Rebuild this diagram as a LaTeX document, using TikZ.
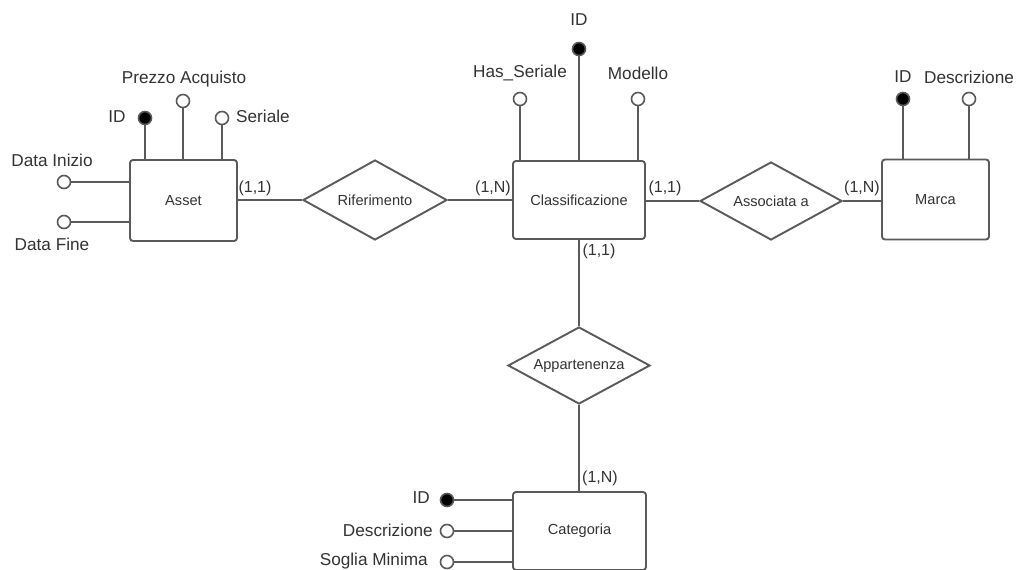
\documentclass[tikz,border=0pt]{standalone}
\usepackage{fontspec}
\setmainfont{Liberation Sans}
\usetikzlibrary{shapes.geometric}
\definecolor{edge}{HTML}{5A5A5A}
\definecolor{ink}{HTML}{333333}
\tikzset{
  entity/.style={draw=edge, line width=1.9pt, rounded corners=3pt, fill=white,
    inner sep=0pt, font=\fontsize{14.6}{16}\selectfont, text=ink},
  relation/.style={diamond, draw=edge, line width=1.9pt, fill=white, inner sep=0pt,
    aspect=1.85, font=\fontsize{14.6}{16}\selectfont, text=ink},
  attr/.style={circle, draw=edge, line width=1.6pt, fill=white, inner sep=0pt, minimum size=13pt},
  keyattr/.style={attr, fill=black},
  lbl/.style={font=\fontsize{17.2}{19}\selectfont, text=ink, inner sep=0pt},
  card/.style={font=\fontsize{16}{18}\selectfont, text=ink, inner sep=0pt},
  link/.style={draw=edge, line width=1.9pt}
}
\begin{document}
\begin{tikzpicture}[x=1pt, y=-1pt]
\useasboundingbox (0,0) rectangle (1025,570);

% entities
\node[entity, minimum width=107pt, minimum height=81pt] (asset) at (183.5,200.5) {Asset};
\node[entity, minimum width=132pt, minimum height=78pt] (classif) at (579,200) {Classificazione};
\node[entity, minimum width=107pt, minimum height=80pt] (marca) at (935.5,199.5) {Marca};
\node[entity, minimum width=133pt, minimum height=78pt] (categ) at (579.5,531) {Categoria};

% relationships
\node[relation, minimum width=144pt, minimum height=80pt] (rif) at (375,200) {Riferimento};
\node[relation, minimum width=142pt, minimum height=78pt] (assoc) at (771,201) {Associata a};
\node[relation, minimum width=142pt, minimum height=77pt] (appart) at (579,365.5) {Appartenenza};

% relationship links
\draw[link] (asset.east |- rif.west) -- (rif.west);
\draw[link] (rif.east) -- (classif.west |- rif.east);
\draw[link] (classif.east |- assoc.west) -- (assoc.west);
\draw[link] (assoc.east) -- (marca.west |- assoc.east);
\draw[link] (classif.south) -- (appart.north);
\draw[link] (appart.south) -- (categ.north -| appart.south);

% cardinalities
\node[card] (c1) at (255,188) {(1,1)};
\node[card] (c2) at (493,188) {(1,N)};
\node[card] (c3) at (665,188) {(1,1)};
\node[card] (c4) at (862,188) {(1,N)};
\node[card] (c5) at (599,251) {(1,1)};
\node[card] (c6) at (600,478) {(1,N)};

% attributes of Asset
\node[keyattr] (aid) at (145,118) {};
\node[attr] (aprezzo) at (183,101) {};
\node[attr] (aser) at (222,118) {};
\node[attr] (adi) at (64,182) {};
\node[attr] (adf) at (64,222) {};
\draw[link] (aid) -- (aid |- asset.north);
\draw[link] (aprezzo) -- (aprezzo |- asset.north);
\draw[link] (aser) -- (aser |- asset.north);
\draw[link] (adi) -- (adi -| asset.west);
\draw[link] (adf) -- (adf -| asset.west);
\node[lbl] (laid) at (117,117) {ID};
\node[lbl] (laprezzo) at (184,79) {Prezzo Acquisto};
\node[lbl, anchor=west] (laser) at (236,116) {Seriale};
\node[lbl] (ladi) at (52,160) {Data Inizio};
\node[lbl] (ladf) at (52,244) {Data Fine};

% attributes of Classificazione
\node[attr] (chas) at (520,99) {};
\node[keyattr] (cid) at (579,49) {};
\node[attr] (cmod) at (638,99) {};
\draw[link] (chas) -- (chas |- classif.north);
\draw[link] (cid) -- (classif.north);
\draw[link] (cmod) -- (cmod |- classif.north);
\node[lbl] (lchas) at (520,73) {Has\_Seriale};
\node[lbl] (lcid) at (579,20) {ID};
\node[lbl] (lcmod) at (638,73) {Modello};

% attributes of Marca
\node[keyattr] (mid) at (903,99) {};
\node[attr] (mdesc) at (969,99) {};
\draw[link] (mid) -- (mid |- marca.north);
\draw[link] (mdesc) -- (mdesc |- marca.north);
\node[lbl] (lmid) at (903,77) {ID};
\node[lbl] (lmdesc) at (969,77) {Descrizione};

% attributes of Categoria
\node[keyattr] (kid) at (447,500) {};
\node[attr] (kdesc) at (447,531) {};
\node[attr] (ksog) at (447,562) {};
\draw[link] (kid) -- (kid -| categ.west);
\draw[link] (kdesc) -- (kdesc -| categ.west);
\draw[link] (ksog) -- (ksog -| categ.west);
\node[lbl, anchor=east] (lkid) at (430,498) {ID};
\node[lbl, anchor=east] (lkdesc) at (433,530) {Descrizione};
\node[lbl, anchor=east] (lksog) at (428,561) {Soglia Minima};
\end{tikzpicture}
\end{document}
